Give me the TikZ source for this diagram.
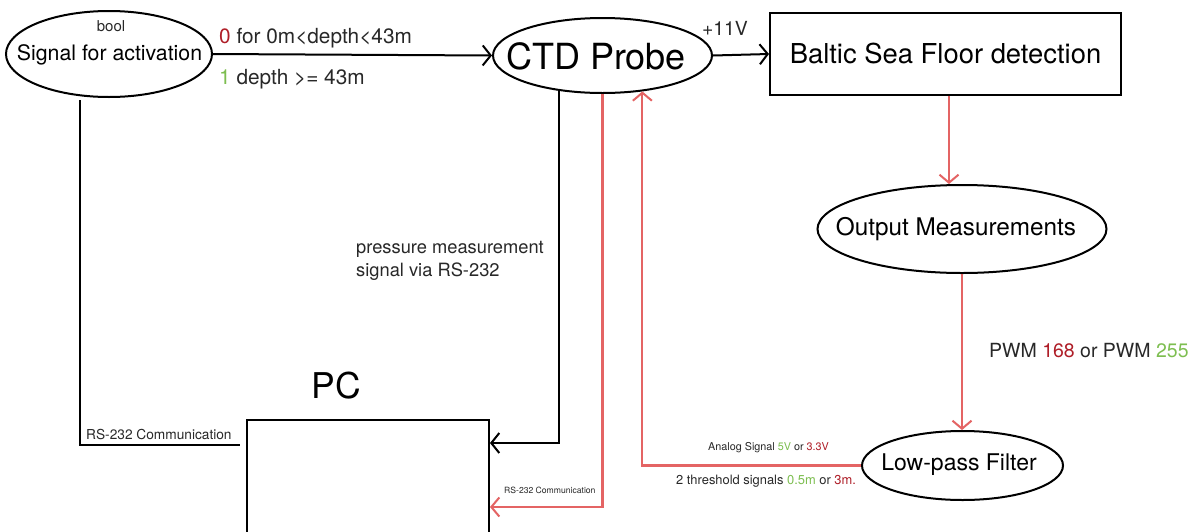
\documentclass[tikz,border=0pt]{standalone}
\usepackage{fontspec}
\setmainfont{TeX Gyre Heros}
\usetikzlibrary{shapes.geometric,arrows.meta,calc}
\definecolor{lred}{RGB}{228,100,100}
\definecolor{tred}{RGB}{175,30,40}
\definecolor{tgreen}{RGB}{125,190,80}
\definecolor{tgray}{RGB}{40,40,40}
\begin{document}
\begin{tikzpicture}[x=1pt,y=-1pt,
  ell/.style={ellipse,draw,line width=2pt,inner sep=0pt},
  boxn/.style={draw,line width=2pt,inner sep=0pt},
  conn/.style={line width=2pt,-{Straight Barb[length=8pt,width=20pt,line width=2pt]}},
  rconn/.style={lred,line width=2.1pt,-{Straight Barb[length=8pt,width=19pt,line width=2pt]}},
  plain/.style={line width=2pt},
  lbl/.style={inner sep=0pt,text=tgray},
  fs/.style={font=\fontsize{#1}{#1}\selectfont}
]
\clip (0,0) rectangle (1203,531);
\fill[white] (0,0) rectangle (1203,531);

% nodes
\node[ell,minimum width=206pt,minimum height=86pt] (sig) at (109,54) {};
\node[lbl,fs=21.3,text=black] (sigtxt) at (109.5,55) {Signal for activation};
\node[lbl,fs=15] (bool) at (111,26) {bool};

\node[ell,minimum width=219pt,minimum height=75pt] (ctd) at (602.5,55.5) {};
\node[lbl,fs=36,text=black] (ctdtxt) at (596,56) {CTD Probe};

\node[boxn,minimum width=351pt,minimum height=82pt,fs=27.4] (balt) at (945.5,54) {Baltic Sea Floor detection};

\node[ell,minimum width=289pt,minimum height=88pt] (out) at (962,229) {};
\node[lbl,fs=24.3,text=black] (outtxt) at (956,229) {Output Measurements};

\node[ell,minimum width=201pt,minimum height=69pt] (lpf) at (962.5,465.5) {};
\node[lbl,fs=23,text=black] (lpftxt) at (959,465) {Low-pass Filter};

\node[boxn,anchor=north west,minimum width=242pt,minimum height=160pt] (pc) at (246,419) {};
\node[lbl,fs=35.5,text=black] (pclbl) at (336,386) {PC};

% connectors
\draw[conn] (sig.east) -- (ctd.west);
\node[lbl,fs=20.8,anchor=west] (l0) at (219,38) {\textcolor{tred}{0} for 0m\textless depth\textless 43m};
\node[lbl,fs=20.8,anchor=west] (l1) at (219,79) {\textcolor{tgreen}{1} depth >= 43m};

\draw[conn] (ctd.east) -- (balt.west);
\node[lbl,fs=19.4] (v11) at (725,28) {+11V};

\draw[rconn] (balt.south -| 949,0) -- (out.north -| 949,0);
\draw[rconn] (out.south) -- (out.south |- lpf.north);
\node[lbl,fs=19.5,anchor=west] (pwm) at (989,351) {PWM \textcolor{tred}{168} or PWM \textcolor{tgreen}{255}};

\draw[rconn] (lpf.west) -| (ctd.318);
\node[lbl,fs=10.8,anchor=west] (an) at (708,448) {Analog Signal \textcolor{tgreen}{5V} or \textcolor{tred}{3.3V}};
\node[lbl,fs=12.9,anchor=west] (thr) at (676,481) {2 threshold signals \textcolor{tgreen}{0.5m} or \textcolor{tred}{3m.}};

\draw[conn] (ctd.219) |- ($(pc.north east)+(0,24)$);
\node[lbl,fs=18.3,anchor=west,align=left] (pm) at (356,261) {pressure measurement\\[4pt]signal via RS-232};

\draw[rconn] (ctd.south) |- ($(pc.north east)+(0,88)$);
\node[lbl,fs=8.6,anchor=west] (rs2) at (504,490) {RS-232 Communication};

\coordinate (rsend) at (240,445);
\draw[plain,shorten <=4pt] (sig.236) |- (rsend);
\node[lbl,fs=13.7,anchor=west] (rs1) at (86,434) {RS-232 Communication};
\end{tikzpicture}
\end{document}
